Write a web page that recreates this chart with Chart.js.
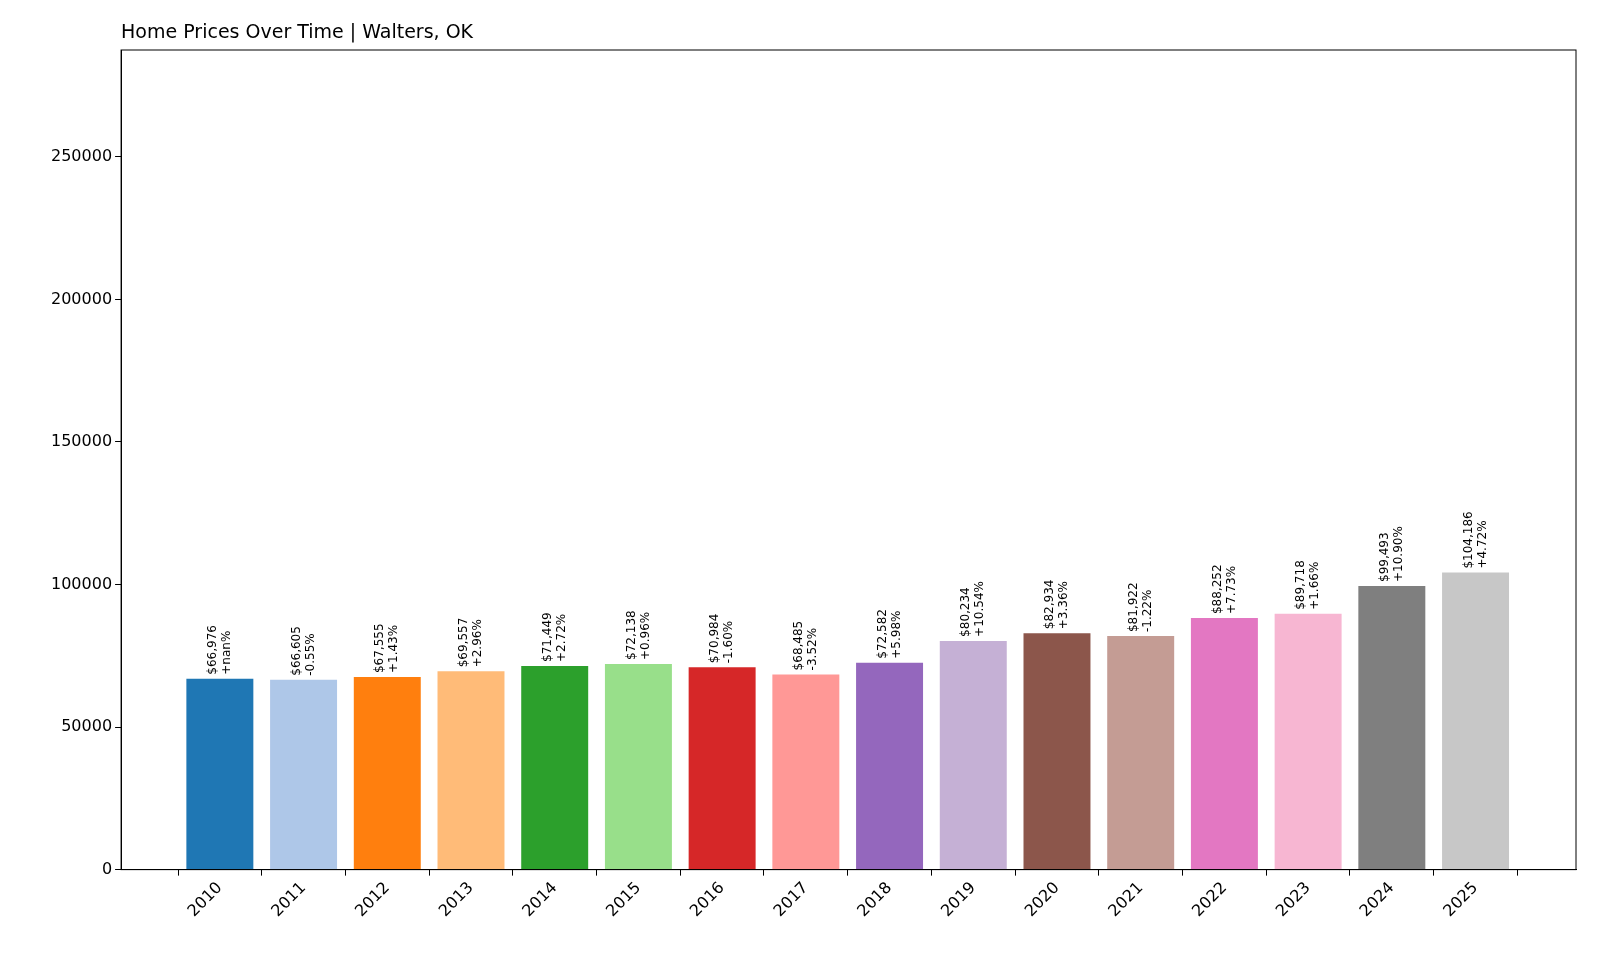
<!DOCTYPE html>
<html>
<head>
<meta charset="utf-8">
<script src="https://cdn.jsdelivr.net/npm/chart.js@4/dist/chart.umd.min.js"></script>
<style>
  body { margin: 0; background: #fff; }
  #wrap { width: 1600px; height: 960px; }
</style>
</head>
<body>
<div id="wrap"><canvas id="chart"></canvas></div>
<script>
const years = [2010, 2011, 2012, 2013, 2014, 2015, 2016, 2017, 2018, 2019, 2020, 2021, 2022, 2023, 2024, 2025];
const prices = [66976, 66605, 67555, 69557, 71449, 72138, 70984, 68485, 72582, 80234, 82934, 81922, 88252, 89718, 99493, 104186];
const changes = ['+nan%', '-0.55%', '+1.43%', '+2.96%', '+2.72%', '+0.96%', '-1.60%', '-3.52%', '+5.98%', '+10.54%', '+3.36%', '-1.22%', '+7.73%', '+1.66%', '+10.90%', '+4.72%'];
const colors = ['#1f77b4', '#aec7e8', '#ff7f0e', '#ffbb78', '#2ca02c', '#98df8a', '#d62728', '#ff9896', '#9467bd', '#c5b0d5', '#8c564b', '#c49c94', '#e377c2', '#f7b6d2', '#7f7f7f', '#c7c7c7'];
const yTicks = [0, 50000, 100000, 150000, 200000, 250000];
const title = 'Home Prices Over Time | Walters, OK';

// labels above each bar, rotated 90 degrees
const barLabels = {
    id: 'barLabels',
    afterDatasetsDraw(chart) {
        const ctx = chart.ctx;
        const x = chart.scales.x, y = chart.scales.y;
        ctx.save();
        ctx.fillStyle = '#000';
        ctx.font = '12px "DejaVu Sans"';
        ctx.textAlign = 'left';
        ctx.textBaseline = 'middle';
        years.forEach((yr, i) => {
            const px = x.getPixelForValue(yr);
            const py = y.getPixelForValue(prices[i]) - 4;
            ctx.save();
            ctx.translate(px, py);
            ctx.rotate(-Math.PI / 2);
            ctx.fillText('$' + prices[i].toLocaleString('en-US'), 0, -7);
            ctx.fillText(changes[i], 0, 7);
            ctx.restore();
        });
        ctx.restore();
    }
};

// frame around the plot and title aligned with its left edge
const frame = {
    id: 'frame',
    afterDraw(chart) {
        const a = chart.chartArea, ctx = chart.ctx;
        ctx.save();
        ctx.strokeStyle = '#000';
        ctx.lineWidth = 1;
        ctx.strokeRect(a.left, a.top, a.right - a.left, a.bottom - a.top);
        ctx.fillStyle = '#000';
        ctx.font = '19px "DejaVu Sans"';
        ctx.textBaseline = 'alphabetic';
        ctx.fillText(title, a.left, a.top - 12);
        ctx.restore();
    }
};

new Chart(document.getElementById('chart'), {
    type: 'bar',
    data: {
        datasets: [{
            data: years.map((yr, i) => ({ x: yr, y: prices[i] })),
            backgroundColor: colors,
            barPercentage: 0.8,
            categoryPercentage: 1
        }]
    },
    options: {
        responsive: true,
        maintainAspectRatio: false,
        animation: false,
        layout: { padding: { left: 48, right: 24, top: 50, bottom: 36 } },
        plugins: {
            legend: { display: false },
            tooltip: { enabled: false },
            title: { display: false }
        },
        scales: {
            x: {
                type: 'linear',
                min: 2008.82,
                max: 2026.2,
                offset: false,
                afterBuildTicks: (s) => { s.ticks = years.map(v => ({ value: v })); },
                grid: { display: true, drawOnChartArea: false, tickLength: 6, color: '#000' },
                border: { color: '#000' },
                ticks: {
                    color: '#000',
                    font: { family: '"DejaVu Sans"', size: 16 },
                    maxRotation: 45, minRotation: 45,
                    callback: (v) => String(v)
                }
            },
            y: {
                min: 0,
                max: 287500,
                afterBuildTicks: (s) => { s.ticks = yTicks.map(v => ({ value: v })); },
                grid: { display: true, drawOnChartArea: false, tickLength: 6, color: '#000' },
                border: { color: '#000' },
                ticks: {
                    color: '#000',
                    font: { family: '"DejaVu Sans"', size: 16 },
                    callback: (v) => String(v)
                }
            }
        }
    },
    plugins: [barLabels, frame]
});
</script>
</body>
</html>
